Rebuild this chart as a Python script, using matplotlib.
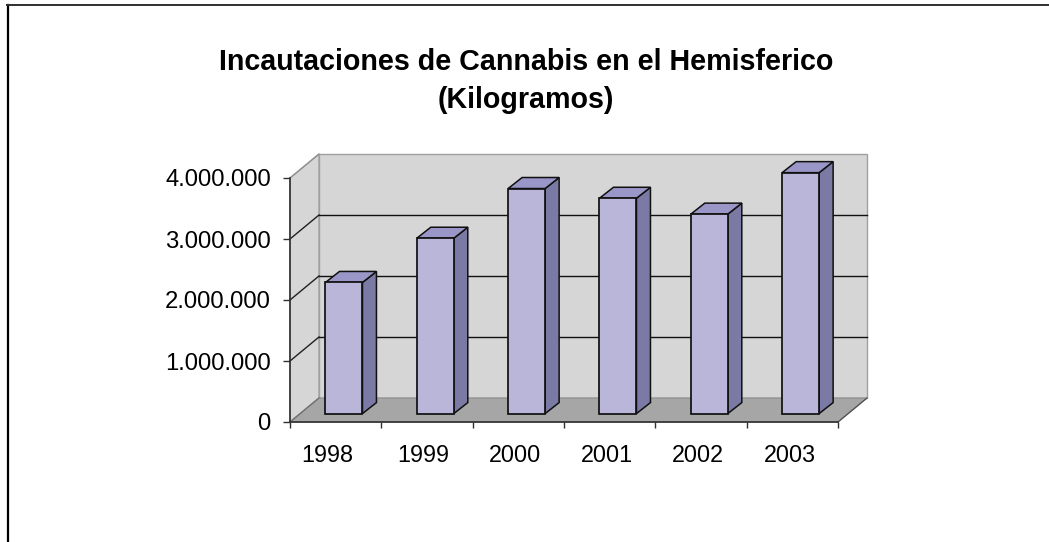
import matplotlib
matplotlib.use("Agg")
import matplotlib.pyplot as plt
from matplotlib.patches import Polygon
from matplotlib.lines import Line2D
from matplotlib.transforms import IdentityTransform

years = ["1998", "1999", "2000", "2001", "2002", "2003"]
seizures = [2150000, 2875000, 3690000, 3530000, 3270000, 3950000]
y_ticks = [0, 1000000, 2000000, 3000000, 4000000]
y_labels = ["0", "1.000.000", "2.000.000", "3.000.000", "4.000.000"]
title_lines = "Incautaciones de Cannabis en el Hemisferico\n(Kilogramos)"

W, H = 1049, 542
plt.rcParams["font.family"] = ["Liberation Sans", "DejaVu Sans"]
fig = plt.figure(figsize=(W / 100, H / 100), dpi=100, facecolor="white")
ax = fig.add_axes([290 / W, (H - 422) / H, 548 / W, 244 / H])
ax.set_xlim(0, len(years))
ax.set_ylim(0, 4000000)
ax.patch.set_visible(False)
for s in ["top", "right"]:
    ax.spines[s].set_visible(False)
for s in ["left", "bottom"]:
    ax.spines[s].set_color("#303030")
    ax.spines[s].set_linewidth(1.2)
ax.set_xticks(range(len(years) + 1))
ax.set_xticklabels([""] * (len(years) + 1))
ax.set_yticks(y_ticks)
ax.set_yticklabels(y_labels, fontsize=17.2, color="black")
ax.tick_params(axis="y", length=5, width=1, color="#303030", pad=8.8)
ax.tick_params(axis="x", length=4.3, width=1, color="#303030")
label_shift = [-8.7, -3.4, -3.3, -2.7, -3, -2.3]
for i, yr in enumerate(years):
    ax.annotate(yr, (i + 0.5, 0), xytext=(label_shift[i], -22), textcoords="offset pixels",
                ha="center", va="top", fontsize=16.8, annotation_clip=False)

DX, DY = 29, 24       # depth of the floor, px
BX, BY = 8.3, 8.4     # bar front offset from axis plane
TX, TY = 14, 11       # bar depth
BAR_W = 0.405


def disp(x, y, ox=0, oy=0):
    px, py = ax.transData.transform((x, y))
    return (px + ox, py + oy)


def poly(pts, fc, ec="none", lw=0.0, z=1):
    ax.add_patch(Polygon(pts, closed=True, transform=IdentityTransform(), facecolor=fc,
                         edgecolor=ec, linewidth=lw, zorder=z, clip_on=False, joinstyle="miter"))


def seg(a, b, color, lw, z=2):
    ax.add_line(Line2D([a[0], b[0]], [a[1], b[1]], transform=IdentityTransform(),
                       color=color, linewidth=lw, zorder=z, clip_on=False))


xmax, ymax = len(years), y_ticks[-1]
# back wall, left wall, floor
poly([disp(0, 0, DX, DY), disp(xmax, 0, DX, DY), disp(xmax, ymax, DX, DY), disp(0, ymax, DX, DY)],
     "#d6d6d6", "#a0a0a0", 1.0)
poly([disp(0, 0), disp(0, 0, DX, DY), disp(0, ymax, DX, DY), disp(0, ymax)], "#d6d6d6", "#a0a0a0", 1.0)
poly([disp(0, 0), disp(xmax, 0), disp(xmax, 0, DX, DY), disp(0, 0, DX, DY)], "#a6a6a6", "#8c8c8c", 0.8)
# gridlines
for v in y_ticks[1:-1]:
    seg(disp(0, v), disp(0, v, DX, DY), "#202020", 1.0)
    seg(disp(0, v, DX, DY), disp(xmax, v, DX, DY), "#101010", 1.0)
seg(disp(0, 0), disp(0, 0, DX, DY), "#707070", 0.9)
seg(disp(0, ymax), disp(0, ymax, DX, DY), "#909090", 0.9)
seg(disp(xmax, 0), disp(xmax, 0, DX, DY), "#505050", 0.9)

# bars
for i, v in enumerate(seizures):
    x0 = i + 0.5 - BAR_W / 2
    x1 = x0 + BAR_W
    fl = disp(x0, 0, BX, BY)
    fr = disp(x1, 0, BX, BY)
    tl = disp(x0, v, BX, BY)
    tr = disp(x1, v, BX, BY)
    back = lambda p: (p[0] + TX, p[1] + TY)
    poly([fr, tr, back(tr), back(fr)], "#7a7aa4", "#101010", 1.1, 3)
    poly([tl, tr, back(tr), back(tl)], "#9a97c8", "#101010", 1.1, 3)
    poly([fl, fr, tr, tl], "#bab6da", "#101010", 1.25, 4)

fig.text(526 / W, 1 - 81 / H, title_lines, ha="center", va="center", fontsize=20.6,
         fontweight="bold", color="black", linespacing=1.45)

# chart frame
fig.add_artist(Line2D([7.5 / W, 7.5 / W], [0, 1 - 5 / H], color="black", linewidth=1.6))
fig.add_artist(Line2D([7 / W, 1], [1 - 5 / H, 1 - 5 / H], color="#303030", linewidth=1.4))

fig.savefig("out.png", dpi=100, facecolor="white")
